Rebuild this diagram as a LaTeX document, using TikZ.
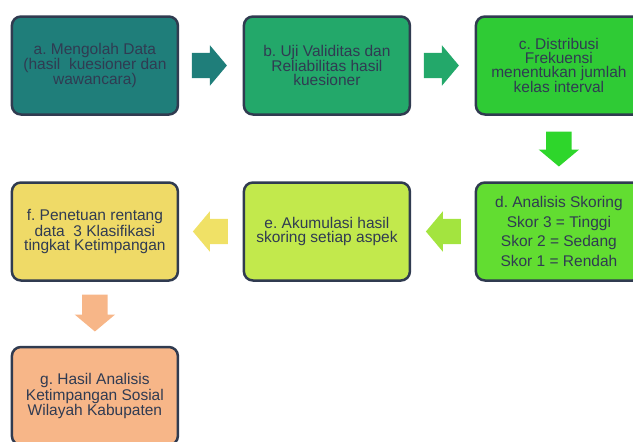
\documentclass[tikz,border=0pt]{standalone}
\usepackage{fontspec}
\setmainfont{Liberation Sans}
\usepackage{xcolor}
\usepackage{tikz}
\usetikzlibrary{positioning, shapes.arrows}
\definecolor{edge}{HTML}{303B50}
\definecolor{ink}{HTML}{303B52}
\definecolor{boxa}{HTML}{1F7E7A}
\definecolor{boxb}{HTML}{23A86A}
\definecolor{boxc}{HTML}{2FCB35}
\definecolor{boxd}{HTML}{62DD31}
\definecolor{boxe}{HTML}{C2E94C}
\definecolor{boxf}{HTML}{EFDA67}
\definecolor{boxg}{HTML}{F7B688}
\definecolor{arrcd}{HTML}{2ED62B}
\definecolor{arrde}{HTML}{A3E43F}
\definecolor{arref}{HTML}{F0E166}
\frenchspacing

\begin{document}
\begin{tikzpicture}[font=\fontsize{15.5pt}{14pt}\selectfont, text=ink,
  stage/.style={draw=edge,line width=2.5pt,rounded corners=9pt,outer sep=0pt,
                minimum width=166pt,minimum height=98pt,align=center},
  blk/.style={single arrow,draw=none,outer sep=0pt,inner xsep=0pt,
              inner ysep=12.5pt,minimum height=35pt,minimum width=40pt,
              single arrow head extend=7.5pt,single arrow tip angle=100},
  blkdown/.style={blk,shape border rotate=270,inner xsep=12.5pt,inner ysep=0pt}]
  \useasboundingbox (0,0) rectangle (633pt,-442pt);
  % top row runs right, middle row runs back to the left
  \node[stage, fill=boxa] (a) at (94.9pt,-65.5pt)
    {a. Mengolah Data\\(hasil\ \ kuesioner dan\\wawancara)};
  \node[stage, fill=boxb, right=66pt of a] (b)
    {b. Uji Validitas dan\\Reliabilitas hasil\\kuesioner};
  \node[stage, fill=boxc, right=66pt of b] (c)
    {c. Distribusi\\Frekuensi\\menentukan jumlah\\kelas interval};
  \node[stage, fill=boxd, below=68pt of c, font=\fontsize{15.5pt}{19.5pt}\selectfont] (d)
    {d. Analisis Skoring\\Skor 3 = Tinggi\\Skor 2 = Sedang\\Skor 1 = Rendah};
  \node[stage, fill=boxe, left=66pt of d] (e)
    {e. Akumulasi hasil\\skoring setiap aspek};
  \node[stage, fill=boxf, left=66pt of e] (f)
    {f. Penetuan rentang\\data\ \ 3 Klasifikasi\\tingkat Ketimpangan};
  \node[stage, fill=boxg, below=66.5pt of f] (g)
    {g. Hasil Analisis\\Ketimpangan Sosial\\Wilayah Kabupaten};
  \node[blk, fill=boxa, anchor=tail] (ab) at ([xshift=14pt]a.east) {};
  \node[blk, fill=boxb, anchor=tail] (bc) at ([xshift=14pt]b.east) {};
  \node[blkdown, fill=arrcd, anchor=tail] (cd) at ([yshift=-17pt]c.south) {};
  \node[blk, fill=arrde, shape border rotate=180, anchor=tail] (de) at ([xshift=-15pt]d.west) {};
  \node[blk, fill=arref, shape border rotate=180, anchor=tail] (ef) at ([xshift=-16pt]e.west) {};
  \node[blkdown, fill=boxg, anchor=tail, minimum height=37pt] (fg) at ([yshift=-14pt]f.south) {};
\end{tikzpicture}
\end{document}
